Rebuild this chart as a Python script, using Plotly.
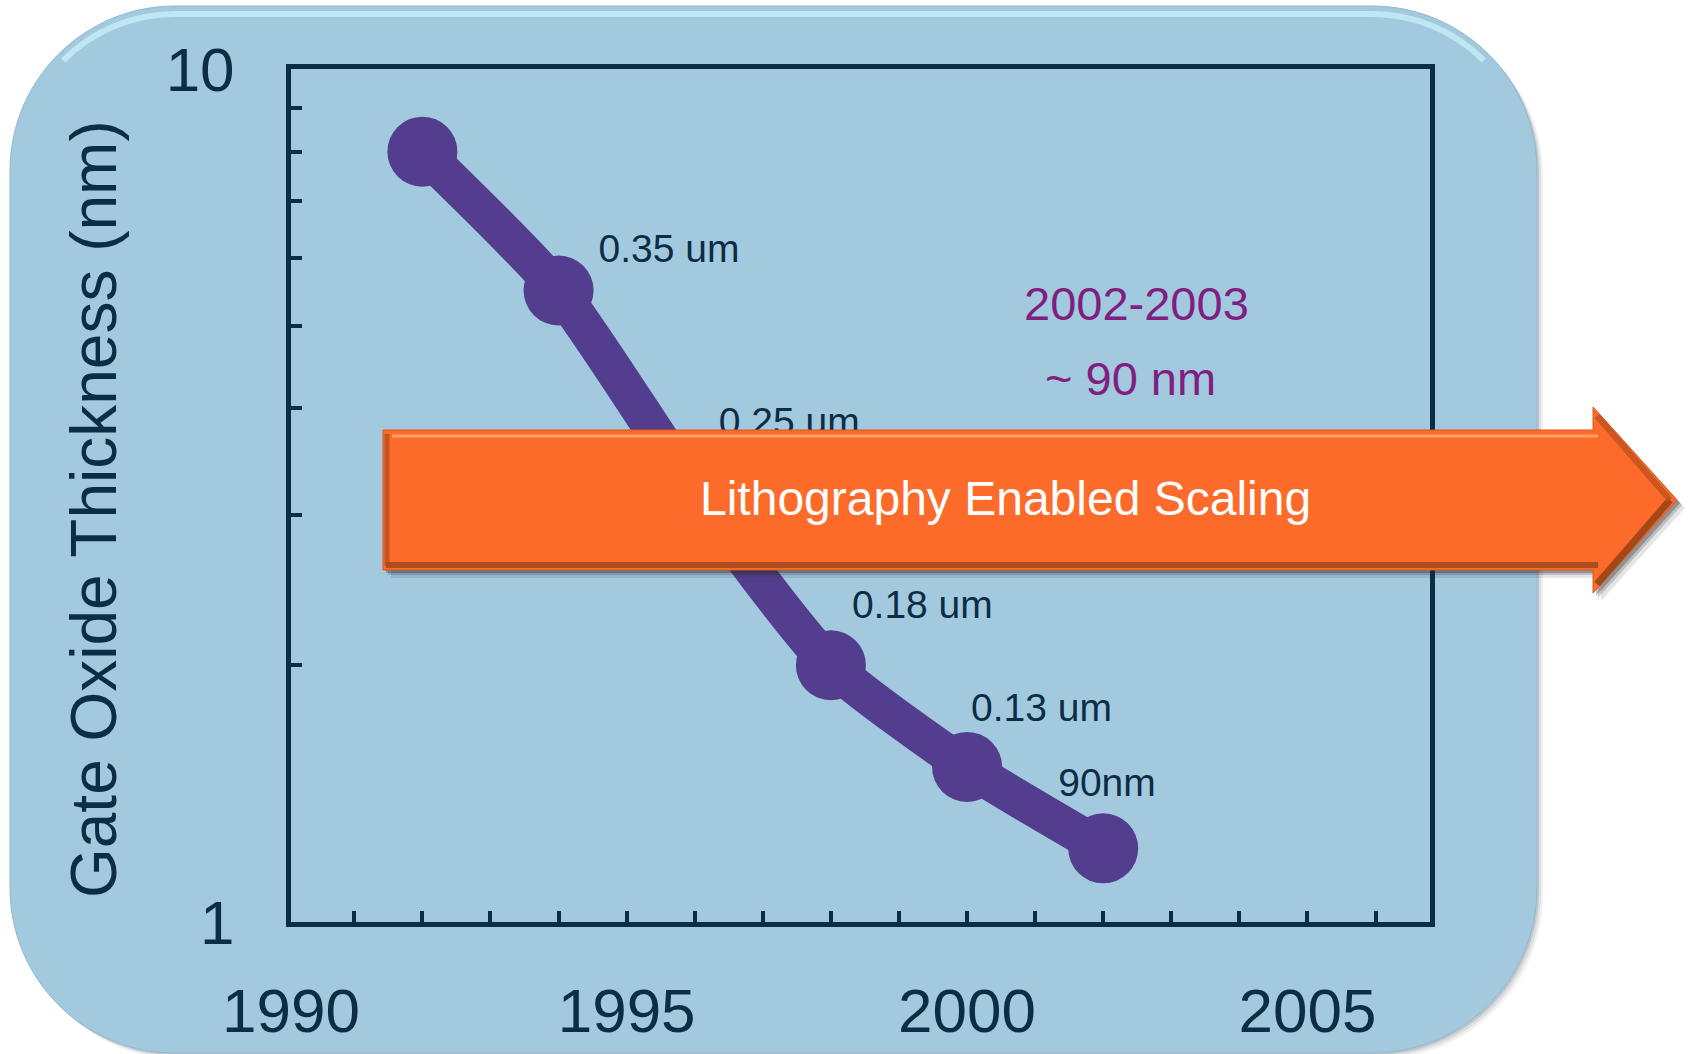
import math
import plotly.graph_objects as go

# ---------------- data ----------------
years = [1992, 1994, 1996, 1998, 2000, 2002]
oxide_nm = [8.0, 5.5, 3.2, 2.0, 1.52, 1.22]
node_labels = ["", "0.35 um", "0.25 um", "0.18 um", "0.13 um", "90nm"]
x_tick_years = [1990, 1995, 2000, 2005]
y_tick_vals = [1, 10]
y_tick_text = ["1", "10"]
y_title = "Gate Oxide Thickness (nm)"
arrow_text = "Lithography Enabled Scaling"
note_lines = ["2002-2003", "~ 90 nm"]

# ---------------- layout geometry (figure pixels) ----------------
FW, FH = 1688, 1054
L, R, T, B = 291, 1430, 69, 922
W, H = R - L, B - T
X0, X1 = 1990.07, 2006.8
PPY = W / (X1 - X0)          # pixels per year
PPD = H                      # pixels per decade (log range 0..1)

NAVY = "#0b2d45"
PURPLE = "#523d8e"
ORANGE = "#fd6b2a"
BOXBLUE = "#a2c9de"
FONT = "Arial, Liberation Sans, sans-serif"


def fx(px):
    return (px - L) / W


def fy(py):
    return (B - py) / H


def pt(x, y):
    return f"{fx(x):.5f},{fy(y):.5f}"


def poly(pts):
    return "M " + " L ".join(pt(x, y) for x, y in pts) + " Z"


def rrect(x0, y0, x1, y1, r):
    k = 0.5523 * r
    return " ".join([
        f"M {pt(x0 + r, y0)}",
        f"L {pt(x1 - r, y0)}",
        f"C {pt(x1 - r + k, y0)} {pt(x1, y0 + r - k)} {pt(x1, y0 + r)}",
        f"L {pt(x1, y1 - r)}",
        f"C {pt(x1, y1 - r + k)} {pt(x1 - r + k, y1)} {pt(x1 - r, y1)}",
        f"L {pt(x0 + r, y1)}",
        f"C {pt(x0 + r - k, y1)} {pt(x0, y1 - r + k)} {pt(x0, y1 - r)}",
        f"L {pt(x0, y0 + r)}",
        f"C {pt(x0, y0 + r - k)} {pt(x0 + r - k, y0)} {pt(x0 + r, y0)} Z",
    ])


def top_highlight(x0, y0, x1, r):
    # open path: 45 degrees of each upper corner plus the straight top edge
    c = r * (1 - math.cos(math.pi / 4))
    k = 4 / 3 * math.tan(math.pi / 16) * r
    d = k * math.cos(math.pi / 4)
    return " ".join([
        f"M {pt(x0 + c, y0 + c)}",
        f"C {pt(x0 + c + d, y0 + c - d)} {pt(x0 + r - k, y0)} {pt(x0 + r, y0)}",
        f"L {pt(x1 - r, y0)}",
        f"C {pt(x1 - r + k, y0)} {pt(x1 - c - d, y0 + c - d)} {pt(x1 - c, y0 + c)}",
    ])


shapes = []
# rounded background panel with soft shadow
for off, op in [(6, 0.10), (4, 0.15), (2, 0.25)]:
    shapes.append(dict(type="path", xref="paper", yref="paper", layer="below",
                       path=rrect(10 + off, 6 + off, 1537 + off, 1053 + off, 165),
                       fillcolor=f"rgba(110,120,130,{op})", line=dict(width=0)))
shapes.append(dict(type="path", xref="paper", yref="paper", layer="below",
                   path=rrect(10, 6, 1537, 1053, 165),
                   fillcolor=BOXBLUE, line=dict(width=1, color="#93b9cf")))
shapes.append(dict(type="path", xref="paper", yref="paper", layer="below",
                   path=top_highlight(17, 14, 1530, 158),
                   line=dict(color="rgba(200,240,250,0.75)", width=6)))

# orange arrow
arrow_pts = [(383, 430), (1593, 430), (1593, 407), (1677, 500), (1593, 593), (1593, 570), (383, 570)]
for off, op in [(8, 0.12), (5, 0.2), (3, 0.3)]:
    shapes.append(dict(type="path", xref="paper", yref="paper", layer="above",
                       path=poly([(x + off, y + off) for x, y in arrow_pts]),
                       fillcolor=f"rgba(40,40,40,{op})", line=dict(width=0)))
shapes.append(dict(type="path", xref="paper", yref="paper", layer="above",
                   path=poly(arrow_pts), fillcolor=ORANGE, line=dict(width=1, color="#d85a20")))
bevels = [
    ((392, 436), (1598, 436), "rgba(255,170,110,0.9)", 3),
    ((386, 565), (1598, 565), "rgba(160,70,25,0.85)", 6),
    ((387, 434), (387, 566), "rgba(170,75,30,0.7)", 5),
    ((1670, 500), (1597, 584), "rgba(150,65,20,0.85)", 7),
    ((1597, 416), (1670, 500), "rgba(185,80,28,0.75)", 6),
]
for (a, b, col, w) in bevels:
    shapes.append(dict(type="path", xref="paper", yref="paper", layer="above",
                       path=f"M {pt(*a)} L {pt(*b)}", line=dict(color=col, width=w)))

fig = go.Figure()
fig.add_trace(go.Scatter(
    x=years, y=oxide_nm, mode="lines+markers",
    line=dict(color=PURPLE, width=38, shape="spline", smoothing=0.6),
    marker=dict(color=PURPLE, size=70),
    hoverinfo="skip", showlegend=False))

# node labels: pixel offsets from each point -> data coords via axis scale
label_offsets = [(0, 0), (40, 38), (24, 66), (21, 57), (4, 56), (-45, 62)]
lx = [yr + dx / PPY for yr, (dx, dy) in zip(years, label_offsets)]
ly = [v * 10 ** (dy / PPD) for v, (dx, dy) in zip(oxide_nm, label_offsets)]
fig.add_trace(go.Scatter(
    x=lx, y=ly, mode="text", text=node_labels, textposition="middle right",
    textfont=dict(family=FONT, size=39, color=NAVY),
    hoverinfo="skip", showlegend=False))

annotations = [
    dict(text=y_title, textangle=-90, x=fx(94), y=fy(509), xref="paper", yref="paper",
         showarrow=False, font=dict(family=FONT, size=64, color=NAVY),
         xanchor="center", yanchor="middle"),
    dict(text=arrow_text, x=fx(1005), y=fy(498), xref="paper", yref="paper",
         showarrow=False, font=dict(family=FONT, size=48, color="white"),
         xanchor="center", yanchor="middle"),
    dict(text=note_lines[0], x=fx(1136), y=fy(303), xref="paper", yref="paper",
         showarrow=False, font=dict(family=FONT, size=47, color="#7f1f7f"),
         xanchor="center", yanchor="middle"),
    dict(text=note_lines[1], x=fx(1130), y=fy(378), xref="paper", yref="paper",
         showarrow=False, font=dict(family=FONT, size=47, color="#7f1f7f"),
         xanchor="center", yanchor="middle"),
]

# first year label sits on the left frame edge
x_tick_pos = [max(v, X0) for v in x_tick_years]

fig.update_layout(
    width=FW, height=FH,
    margin=dict(l=L, r=FW - R, t=T, b=FH - B, pad=0, autoexpand=False),
    paper_bgcolor="white", plot_bgcolor="rgba(0,0,0,0)",
    shapes=shapes, annotations=annotations,
    showlegend=False,
    xaxis=dict(range=[X0, X1], tickvals=x_tick_pos, ticktext=[str(v) for v in x_tick_years],
               ticks="inside", ticklen=11, tickwidth=4, tickcolor=NAVY,
               minor=dict(dtick=1, tick0=1990, ticks="inside", ticklen=11, tickwidth=4, tickcolor=NAVY),
               showline=True, linewidth=5, linecolor=NAVY, mirror=True,
               showgrid=False, zeroline=False, automargin=False,
               tickfont=dict(family=FONT, size=62, color=NAVY), ticklabelstandoff=31),
    yaxis=dict(type="log", range=[0, 1], tickvals=y_tick_vals, ticktext=y_tick_text,
               ticks="inside", ticklen=0, tickwidth=4, tickcolor=NAVY,
               minor=dict(tickvals=[2, 3, 4, 5, 6, 7, 8, 9], ticks="inside", ticklen=11,
                          tickwidth=4, tickcolor=NAVY, showgrid=False),
               showline=True, linewidth=5, linecolor=NAVY, mirror=True,
               showgrid=False, zeroline=False, automargin=False,
               tickfont=dict(family=FONT, size=62, color=NAVY), ticklabelstandoff=39),
)

fig.write_html("out.html")
